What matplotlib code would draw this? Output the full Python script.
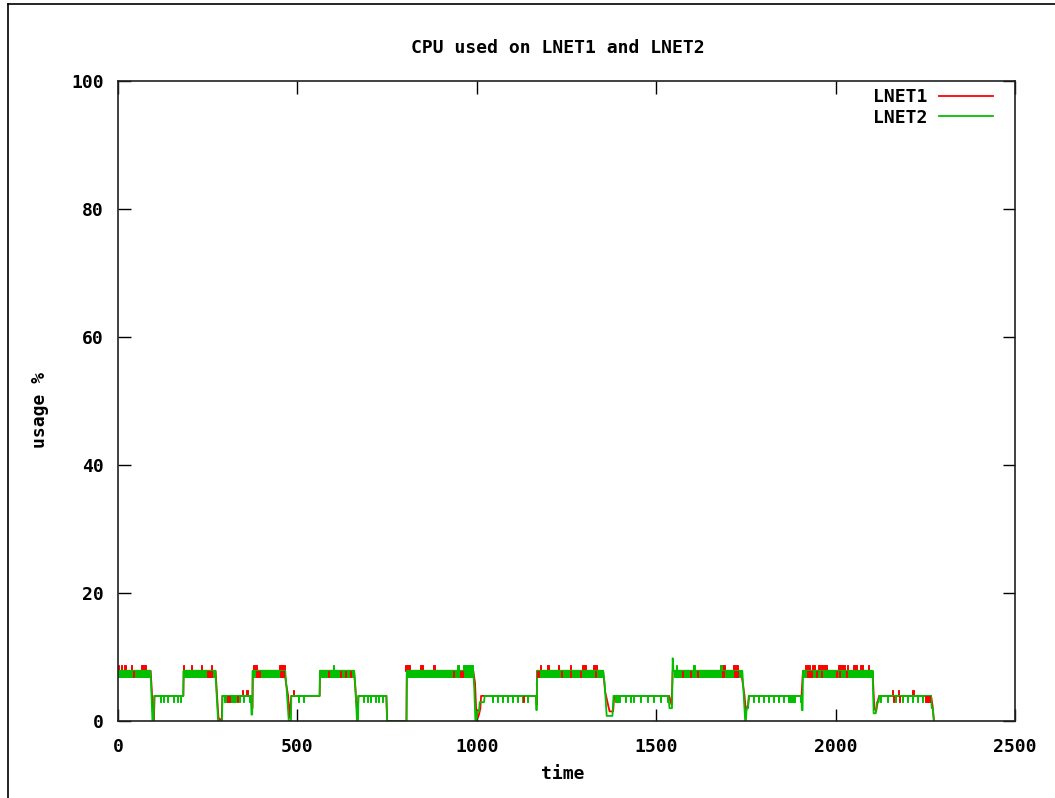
import matplotlib
matplotlib.use("Agg")
import matplotlib.pyplot as plt
from matplotlib.lines import Line2D

plt.rcParams['font.family'] = ['DejaVu Sans Mono']
plt.rcParams['font.weight'] = 'bold'
plt.rcParams['font.size'] = 13

# sample levels seen in the trace (usage %)
HI, HI_LO, HI_UP = 7.84, 6.86, 8.82
LO, LO_DN, LO_UP = 3.92, 2.94, 4.90

# LNET2 main trace (time, usage)
lnet2_t = [0, 90, 92, 96, 99, 101, 182, 183, 271, 274, 279, 290, 291, 371, 372, 374,
           375, 466, 470, 476, 482, 483, 562, 563, 658, 662, 666, 669, 670, 748, 750,
           804, 805, 990, 993, 996, 999, 1001, 1006, 1008, 1020, 1022, 1165, 1166, 1167,
           1168, 1352, 1356, 1362, 1378, 1381, 1534, 1537, 1544, 1546, 1548, 1740, 1743,
           1748, 1750, 1752, 1756, 1758, 1905, 1906, 1908, 1909, 2103, 2106, 2112, 2115,
           2120, 2122, 2266, 2268, 2271, 2274]
lnet2_v = [7.84, 7.84, 6, 0, 0, 3.92, 3.92, 7.84, 7.84, 5, 0, 0, 3.92, 3.92, 1, 1,
           7.84, 7.84, 5, 0, 0, 3.92, 3.92, 7.84, 7.84, 5, 0, 0, 3.92, 3.92, 0,
           0, 7.84, 7.84, 5, 0, 0, 1.5, 1.5, 2.94, 2.94, 3.92, 3.92, 1.7, 1.7,
           7.84, 7.84, 6, 0.8, 0.8, 3.92, 3.92, 2, 2, 9.8, 7.84, 7.84, 5,
           0, 0, 2, 2, 3.92, 3.92, 1.7, 1.7, 7.84, 7.84, 1.2, 1.2, 2.94,
           2.94, 3.92, 3.92, 2, 2, 0]

# LNET1 main trace (time, usage)
lnet1_t = [0, 91, 94, 97, 100, 102, 182, 183, 272, 276, 280, 289, 291, 371, 373, 375,
           376, 464, 468, 474, 478, 483, 562, 563, 658, 664, 668, 670, 748, 750,
           804, 805, 990, 995, 998, 1003, 1006, 1010, 1012, 1165, 1167, 1168,
           1352, 1358, 1364, 1370, 1380, 1383, 1536, 1543, 1546, 1736, 1741, 1746, 1750,
           1756, 1759, 1905, 1909, 2103, 2108, 2113, 2117, 2121, 2266, 2270, 2274]
lnet1_v = [7.84, 7.84, 5, 1.5, 0, 3.92, 3.92, 7.84, 7.84, 4, 0.5, 0, 3.92, 3.92, 2, 2,
           7.84, 7.84, 6, 4, 0.5, 3.92, 3.92, 7.84, 7.84, 3, 0.5, 3.92, 3.92, 0,
           0, 7.84, 7.84, 6, 2, 0.5, 1, 2, 3.92, 3.92, 2.5, 7.84,
           7.84, 4.5, 3, 1.5, 1.5, 3.92, 3.92, 2.5, 7.84, 7.84, 6, 4, 1.5,
           2.5, 3.92, 3.92, 7.84, 7.84, 2, 1.5, 2.9, 3.92, 3.92, 2.5, 0]

# LNET2: dense oscillation bands in the busy phases (start, end)
g_band_start = [0, 184, 376, 565, 806, 1168, 1549, 1910]
g_band_end = [90, 271, 466, 658, 990, 1352, 1740, 2103]
# LNET2: spikes up to 8.82
g_up_start = [600, 946, 962, 1556, 1602, 1677]
g_up_end = [603, 949, 990, 1559, 1608, 1683]
# LNET2: dips to 2.94 in the quiet phases
g_dn_start = [117, 126, 137, 153, 164, 173, 295, 338, 347, 365, 502, 516, 683, 694, 702,
              716, 725, 736, 1042, 1057, 1070, 1084, 1098, 1112, 1126, 1140, 1385, 1413,
              1427, 1436, 1455, 1474, 1491, 1511, 1530, 1770, 1784, 1798, 1812, 1826,
              1840, 1853, 1867, 1901, 2124, 2143, 2165, 2185, 2199, 2213, 2227, 2241, 2255]
g_dn_end = [119, 128, 139, 155, 166, 175, 330, 341, 350, 370, 504, 518, 685, 696, 704,
            718, 727, 738, 1044, 1059, 1072, 1086, 1100, 1114, 1128, 1142, 1398, 1415,
            1429, 1438, 1457, 1476, 1493, 1513, 1532, 1772, 1786, 1800, 1814, 1828,
            1842, 1855, 1887, 1903, 2126, 2145, 2167, 2187, 2201, 2215, 2229, 2243, 2264]

# LNET1: spikes up to 8.82 in the busy phases
r_up_start = [0, 9, 18, 37, 65, 181, 204, 232, 260, 375, 450, 800, 841, 878, 1175, 1197,
              1225, 1259, 1292, 1323, 1678, 1713, 1915, 1935, 1951, 2007, 2032, 2049,
              2068, 2089]
r_up_end = [3, 12, 21, 40, 77, 185, 207, 235, 263, 388, 466, 815, 849, 884, 1178, 1200,
            1228, 1262, 1303, 1336, 1692, 1728, 1929, 1943, 1976, 2026, 2035, 2060,
            2076, 2092]
# LNET1: spikes up to 4.90 in the quiet phases
r_lup_start = [346, 358, 487, 2156, 2173, 2214]
r_lup_end = [349, 361, 490, 2159, 2176, 2218]
# LNET1 showing through gaps of LNET2 in the busy band
r_in_start = [41, 247, 386, 451, 584, 618, 632, 646, 933, 952, 958, 1169, 1234, 1259,
              1287, 1329, 1571, 1593, 1613, 1684, 1717, 1920, 1945, 1960, 2000, 2010, 2030]
r_in_end = [44, 262, 395, 462, 587, 621, 635, 649, 936, 955, 961, 1173, 1237, 1262,
            1290, 1332, 1574, 1596, 1616, 1690, 1728, 1935, 1948, 1963, 2003, 2013, 2033]
# LNET1 showing through in the quiet band
r_lin_start = [304, 331, 1128, 2159, 2176, 2250]
r_lin_end = [312, 334, 1131, 2162, 2179, 2262]

RED = '#ff0000'
GREEN = '#00c000'


def blocks(ax, start, end, bottom, top, color, z):
    width = [e - s for s, e in zip(start, end)]
    ax.bar(start, top - bottom, width=width, bottom=bottom, align='edge',
           color=color, edgecolor=color, linewidth=0.7, zorder=z)


fig = plt.figure(figsize=(10.55, 7.98), dpi=100)
ax = fig.add_axes([118 / 1055, 1 - 721 / 798, 897 / 1055, 640 / 798])

ax.plot(lnet1_t, lnet1_v, color=RED, lw=1.3, zorder=2, label='LNET1')
blocks(ax, r_up_start, r_up_end, HI, HI_UP, RED, 2)
blocks(ax, r_lup_start, r_lup_end, LO, LO_UP, RED, 2)

blocks(ax, g_band_start, g_band_end, HI_LO, HI, GREEN, 3)
blocks(ax, g_up_start, g_up_end, HI, HI_UP, GREEN, 3)
blocks(ax, g_dn_start, g_dn_end, LO_DN, LO, GREEN, 3)
ax.plot(lnet2_t, lnet2_v, color=GREEN, lw=1.3, zorder=3, label='LNET2')

blocks(ax, r_in_start, r_in_end, HI_LO, HI, RED, 4)
blocks(ax, r_lin_start, r_lin_end, LO_DN, LO, RED, 4)

ax.set_xlim(0, 2500)
ax.set_ylim(0, 100)
ax.set_xticks([0, 500, 1000, 1500, 2000, 2500])
ax.set_yticks([0, 20, 40, 60, 80, 100])
ax.tick_params(direction='in', length=9, width=1, top=True, right=True,
               labelsize=13, pad=10)
ax.tick_params(axis='x', pad=12)
for sp in ax.spines.values():
    sp.set_linewidth(1.2)
    sp.set_color('#202020')
    sp.set_zorder(5)

leg = ax.legend(handles=[Line2D([], [], color=RED, lw=1.3),
                         Line2D([], [], color=GREEN, lw=1.3)],
                labels=['LNET1', 'LNET2'], loc='upper right', frameon=False,
                markerfirst=False, handlelength=3.0, handletextpad=0.65,
                labelspacing=0.15, borderpad=0, borderaxespad=0,
                bbox_to_anchor=(993 / 1055, 1 - 88 / 798),
                bbox_transform=fig.transFigure)

fig.text(558 / 1055, 1 - 48 / 798, 'CPU used on LNET1 and LNET2',
         ha='center', va='center')
fig.text(563 / 1055, 1 - 774 / 798, 'time', ha='center', va='center')
fig.text(40 / 1055, 1 - 410 / 798, 'usage %', ha='center', va='center', rotation=90)

# frame of the original screenshot
fig.add_artist(Line2D([8 / 1055, 8 / 1055], [0, 1 - 4 / 798], color='black', lw=1.2))
fig.add_artist(Line2D([8 / 1055, 1], [1 - 4 / 798, 1 - 4 / 798], color='black', lw=1.2))

fig.savefig('out.png', dpi=100)
